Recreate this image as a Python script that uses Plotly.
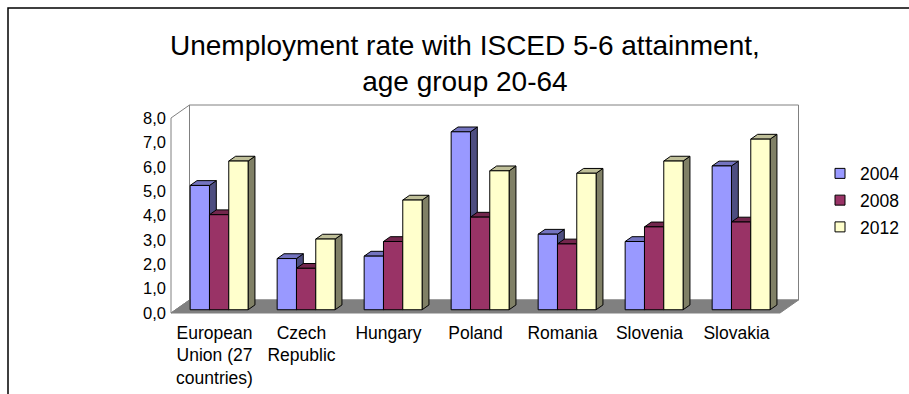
import plotly.graph_objects as go

# --- data -----------------------------------------------------------------
countries = [
    "European<br>Union (27<br>countries)",
    "Czech<br>Republic",
    "Hungary",
    "Poland",
    "Romania",
    "Slovenia",
    "Slovakia",
]
years = ["2004", "2008", "2012"]
rate_2004 = [5.1, 2.1, 2.2, 7.3, 3.1, 2.8, 5.9]
rate_2008 = [3.9, 1.7, 2.8, 3.8, 2.7, 3.4, 3.6]
rate_2012 = [6.1, 2.9, 4.5, 5.7, 5.6, 6.1, 7.0]
y_ticks = [0, 1, 2, 3, 4, 5, 6, 7, 8]

series = [rate_2004, rate_2008, rate_2012]
front_colors = ["#9999FF", "#993366", "#FFFFCC"]
side_colors = ["#4D4D80", "#4D1A33", "#808066"]
top_colors = ["#7373BF", "#73264D", "#BFBF99"]

# --- page / plot geometry (pixels) ----------------------------------------
W, H = 909, 394
PX_X, PX_Y = 87.0, 24.375          # pixels per category / per unit
FRONT_X0, FRONT_Y0 = 171.0, 313.0  # front-left corner of the floor
PL, PR, PT, PB = 150.0, 830.0, 95.0, 335.0

x_min = -0.5 - (FRONT_X0 - PL) / PX_X
x_max = -0.5 + (PR - FRONT_X0) / PX_X
y_min = -(PB - FRONT_Y0) / PX_Y
y_max = (FRONT_Y0 - PT) / PX_Y

# oblique depth of the box and of the columns
DX = 18.5 / PX_X
DY = 13.0 / PX_Y
F0, F1 = 0.25, 0.62
BAR_W = 0.222

n_cat = len(countries)
y_top = y_ticks[-1]

fig = go.Figure()


def poly(pts):
    xs, ys = [], []
    for p in pts:
        xs.append(p[0])
        ys.append(p[1])
    xs.append(pts[0][0])
    ys.append(pts[0][1])
    return xs, ys


# walls and floor
left, right = -0.5, n_cat - 0.5
walls = [
    ([(left + DX, DY), (right + DX, DY), (right + DX, y_top + DY), (left + DX, y_top + DY)], "white", "#808080"),
    ([(left, 0), (left, y_top), (left + DX, y_top + DY), (left + DX, DY)], "white", "#808080"),
    ([(left, 0), (right, 0), (right + DX, DY), (left + DX, DY)], "#808080", "#808080"),
]
for pts, fc, lc in walls:
    xs, ys = poly(pts)
    fig.add_trace(go.Scatter(x=xs, y=ys, mode="lines", fill="toself", fillcolor=fc,
                             line=dict(color=lc, width=1), hoverinfo="skip", showlegend=False))

# columns: side, top and front face per series
base = F0 * DY
ddx = (F1 - F0) * DX
ddy = (F1 - F0) * DY
for s, vals in enumerate(series):
    sx, sy, tx, ty, fx, fy = [], [], [], [], [], []
    for c, v in enumerate(vals):
        x0 = c - 1.5 * BAR_W + s * BAR_W + F0 * DX
        x1 = x0 + BAR_W
        top = base + v
        for (ax, ay), pts in (
            ((sx, sy), [(x1, base), (x1 + ddx, base + ddy), (x1 + ddx, top + ddy), (x1, top)]),
            ((tx, ty), [(x0, top), (x1, top), (x1 + ddx, top + ddy), (x0 + ddx, top + ddy)]),
            ((fx, fy), [(x0, base), (x1, base), (x1, top), (x0, top)]),
        ):
            px, py = poly(pts)
            ax.extend(px + [None])
            ay.extend(py + [None])
    for xs, ys, col in ((sx, sy, side_colors[s]), (tx, ty, top_colors[s]), (fx, fy, front_colors[s])):
        fig.add_trace(go.Scatter(x=xs, y=ys, mode="lines", fill="toself", fillcolor=col,
                                 line=dict(color="black", width=1), hoverinfo="skip",
                                 showlegend=False))

# legend entries
for s, yr in enumerate(years):
    fig.add_trace(go.Scatter(x=[None], y=[None], mode="markers", name=yr, legendgroup=yr,
                             marker=dict(symbol="square", size=10, color=front_colors[s],
                                         line=dict(color="black", width=1))))

font = "Liberation Sans, Arial, sans-serif"

fig.update_layout(
    width=W, height=H,
    template="none",
    margin=dict(l=0, r=0, t=0, b=0),
    paper_bgcolor="white",
    plot_bgcolor="rgba(0,0,0,0)",
    separators=", ",
    font=dict(family=font, color="black", size=17),
    showlegend=True,
    legend=dict(x=820 / W, y=1 - 155.5 / H, xanchor="left", yanchor="top",
                font=dict(size=17.5, family=font), tracegroupgap=1,
                bgcolor="rgba(0,0,0,0)", itemwidth=30),
    xaxis=dict(domain=[PL / W, PR / W], range=[x_min, x_max], anchor="free",
               position=1 - FRONT_Y0 / H, tickvals=list(range(n_cat)), ticktext=countries,
               showgrid=False, zeroline=False, showline=False, ticks="",
               ticklabelstandoff=7,
               tickfont=dict(size=17.5, family=font), automargin=False),
    yaxis=dict(domain=[1 - PB / H, 1 - PT / H], range=[y_min, y_max], anchor="free",
               position=FRONT_X0 / W, tickvals=y_ticks, tickformat=".1f",
               showgrid=False, zeroline=False, showline=False, ticks="",
               ticklabelstandoff=5,
               tickfont=dict(size=16.5, family=font), automargin=False),
    annotations=[dict(text="Unemployment rate with ISCED 5-6 attainment,<br>age group 20-64",
                      x=465 / W, y=1 - 63.5 / H, xref="paper", yref="paper",
                      showarrow=False, font=dict(size=28, family=font, color="black"),
                      xanchor="center", yanchor="middle")],
    shapes=[dict(type="rect", xref="paper", yref="paper", x0=8 / W, x1=1.05,
                 y0=-0.05, y1=1 - 8 / H, line=dict(color="black", width=1.5), layer="above")],
)

fig.write_html("out.html")
